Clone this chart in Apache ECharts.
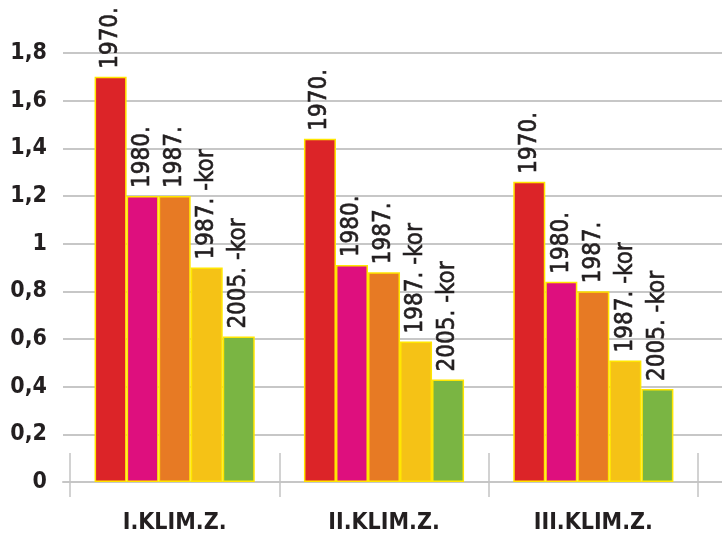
<!DOCTYPE html>
<html>
<head>
<meta charset="utf-8">
<script src="https://cdn.jsdelivr.net/npm/echarts@6/dist/echarts.min.js"></script>
<style>
  html, body { margin: 0; padding: 0; background: #ffffff; }
  #chart { width: 722px; height: 535px; }
</style>
</head>
<body>
<div id="chart"></div>
<script>
// Climate zones along the category axis
const zones = ['I.KLIM.Z.', 'II.KLIM.Z.', 'III.KLIM.Z.'];

// One series per period, values per zone
const seriesNames = ['1970.', '1980.', '1987.', '1987. -kor', '2005. -kor'];
const v1970 = [1.70, 1.44, 1.26];
const v1980 = [1.20, 0.91, 0.84];
const v1987 = [1.20, 0.88, 0.80];
const v1987kor = [0.90, 0.59, 0.51];
const v2005kor = [0.61, 0.43, 0.39];
const seriesValues = [v1970, v1980, v1987, v1987kor, v2005kor];

const colors = ['#dc2428', '#de0f7e', '#e77a24', '#f5c216', '#7ab543'];

// Value axis ticks
const yMin = 0, yMax = 1.8, yStep = 0.2;

const condensed = '"DejaVu Sans Condensed", "DejaVu Sans", sans-serif';
const ink = '#231f20';

const chart = echarts.init(document.getElementById('chart'), null, { renderer: 'canvas' });

const series = seriesNames.map((name, i) => ({
  name: name,
  type: 'bar',
  xAxisIndex: 1,
  yAxisIndex: 1,
  data: seriesValues[i],
  barGap: '0%',
  barCategoryGap: '23.5%',
  itemStyle: { color: colors[i], borderColor: '#ffe600', borderWidth: 1.5 },
  label: {
    show: true,
    position: 'top',
    rotate: 90,
    align: 'left',
    verticalAlign: 'middle',
    distance: 8,
    formatter: name,
    fontFamily: condensed,
    fontSize: 24,
    color: ink,
    // slight stroke for a semibold look
    textBorderColor: ink,
    textBorderWidth: 0.6
  },
  z: 3
}));

chart.setOption({
  animation: false,
  backgroundColor: '#ffffff',
  grid: [
    { left: 63, right: 0, top: 53, bottom: 53 },
    { left: 70, right: 24, top: 53, bottom: 53 }
  ],
  xAxis: [
    {
      type: 'category', gridIndex: 0, data: zones,
      axisLine: { show: true, lineStyle: { color: '#c6c6c6', width: 2 } },
      axisTick: { show: false }, axisLabel: { show: false }, splitLine: { show: false }
    },
    {
      type: 'category', gridIndex: 1, data: zones,
      axisLine: { show: false },
      axisTick: { show: true, inside: true, length: 29, lineStyle: { color: '#c4c4c4', width: 1.5 } },
      axisLabel: {
        show: true, margin: 30,
        fontFamily: condensed, fontWeight: 'bold', fontSize: 23, color: ink
      }
    },
    {
      type: 'category', gridIndex: 1, data: zones, position: 'bottom',
      axisLine: { show: false },
      axisTick: { show: true, inside: false, length: 15, lineStyle: { color: '#c4c4c4', width: 1.5 } },
      axisLabel: { show: false }
    }
  ],
  yAxis: [
    {
      type: 'value', gridIndex: 0, min: yMin, max: yMax, interval: yStep,
      axisLine: { show: false }, axisTick: { show: false },
      splitLine: { show: true, lineStyle: { color: '#b4b4b4', width: 1.5 } },
      axisLabel: {
        margin: 16,
        fontFamily: condensed, fontWeight: 'bold', fontSize: 23, color: ink,
        formatter: v => String(+v.toFixed(1)).replace('.', ',')
      }
    },
    {
      type: 'value', gridIndex: 1, min: yMin, max: yMax, interval: yStep,
      show: false, splitLine: { show: false }
    }
  ],
  series: series
});
</script>
</body>
</html>
